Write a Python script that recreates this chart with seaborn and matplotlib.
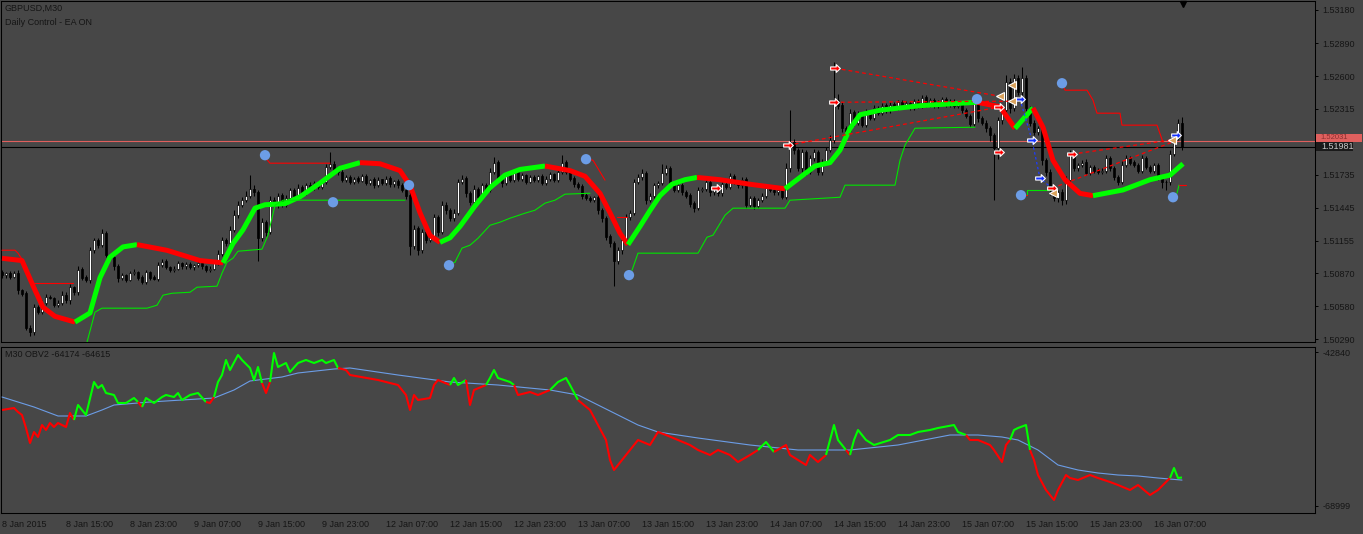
import numpy as np
import matplotlib
matplotlib.use("Agg")
import matplotlib.pyplot as plt
import matplotlib.transforms as mtransforms
from matplotlib.patches import Rectangle
from matplotlib.path import Path
import seaborn as sns

# colours
BG = "#474747"
INK = "#151515"
RED = "#ff0000"
LIME = "#00ff00"
BLUE = "#6c9de6"
TAN = "#d9a25c"
BIDRED = "#e0605e"

sns.set_style("dark", {"axes.facecolor": BG, "figure.facecolor": BG,
                       "axes.edgecolor": "black", "axes.grid": False})
plt.rcParams["font.family"] = ["Liberation Sans", "DejaVu Sans"]
plt.rcParams["font.size"] = 6.5
plt.rcParams["axes.linewidth"] = 0.75

# ---------------- GBPUSD M30 candles (pips above 1.5000) ----------------
first_open_pips = 88
close_pips = [
    85, 87, 84, 87, 72, 69, 39, 35, 57, 53,
    61, 66, 65, 59, 61, 68, 63, 75, 70, 90,
    83, 81, 107, 116, 112, 122, 103, 101, 93, 83,
    85, 81, 87, 88, 83, 79, 88, 83, 82, 94,
    97, 92, 90, 91, 96, 93, 95, 92, 94, 96,
    93, 90, 91, 96, 104, 116, 113, 125, 138, 147,
    151, 155, 161, 158, 118, 132, 123, 151, 147, 155,
    147, 153, 160, 155, 162, 158, 164, 162, 166, 163,
    167, 180, 183, 177, 176, 169, 171, 167, 170, 168,
    172, 166, 169, 164, 169, 166, 170, 165, 168, 164,
    160, 155, 111, 126, 107, 123, 116, 119, 136, 123,
    147, 142, 135, 140, 167, 170, 157, 149, 161, 154,
    164, 160, 176, 184, 170, 166, 173, 169, 176, 170,
    173, 167, 171, 169, 172, 166, 170, 174, 169, 176,
    184, 176, 170, 165, 163, 155, 153, 151, 154, 142,
    135, 119, 113, 98, 107, 116, 136, 140, 167, 171,
    175, 151, 155, 164, 166, 175, 179, 166, 160, 164,
    158, 155, 148, 144, 160, 161, 167, 158, 161, 157,
    165, 163, 172, 167, 164, 169, 147, 153, 146, 151,
    155, 162, 160, 158, 160, 154, 179, 202, 195, 179,
    193, 176, 188, 193, 176, 184, 195, 204, 239, 234,
    214, 212, 228, 219, 226, 217, 228, 223, 232, 228,
    234, 230, 235, 232, 237, 234, 236, 232, 238, 234,
    241, 235, 239, 234, 237, 240, 235, 238, 234, 236,
    230, 225, 218, 236, 223, 219, 214, 208, 197, 221,
    230, 255, 232, 258, 246, 258, 232, 219, 211, 214,
    186, 176, 161, 153, 158, 151, 169, 192, 179, 182,
    184, 175, 180, 177, 176, 177, 188, 179, 171, 167,
    182, 188, 184, 182, 177, 188, 180, 177, 182, 171,
    167, 167, 192, 206, 219, 198,
]
wick_up = [
    2, 1, 2, 2, 3, 1, 2, 2, 3, 2,
    2, 3, 2, 1, 2, 3, 2, 2, 1, 3,
    2, 2, 3, 2, 2, 4, 2, 1, 2, 2,
    2, 1, 2, 3, 1, 2, 2, 1, 2, 3,
    2, 2, 1, 2, 2, 1, 2, 2, 1, 2,
    2, 1, 2, 2, 3, 3, 2, 3, 4, 3,
    3, 4, 12, 3, 2, 3, 2, 4, 3, 2,
    2, 3, 2, 2, 3, 2, 2, 3, 2, 2,
    2, 3, 10, 2, 2, 3, 2, 2, 1, 2,
    2, 2, 1, 2, 2, 1, 2, 2, 1, 2,
    2, 2, 3, 3, 2, 3, 2, 2, 3, 2,
    3, 2, 2, 3, 3, 3, 2, 2, 3, 2,
    2, 2, 3, 5, 2, 2, 2, 2, 1, 2,
    2, 1, 2, 2, 1, 2, 2, 2, 1, 3,
    7, 2, 2, 2, 2, 2, 2, 2, 1, 3,
    2, 2, 2, 2, 3, 3, 3, 2, 3, 3,
    3, 2, 2, 2, 2, 8, 3, 2, 2, 2,
    2, 2, 2, 2, 3, 2, 2, 2, 2, 3,
    2, 2, 3, 2, 2, 2, 2, 2, 2, 2,
    2, 2, 2, 2, 2, 3, 5, 28, 3, 2,
    3, 2, 3, 3, 2, 3, 3, 4, 33, 5,
    3, 2, 3, 2, 3, 2, 3, 2, 3, 2,
    2, 2, 2, 2, 2, 2, 2, 2, 2, 2,
    2, 2, 2, 2, 2, 2, 2, 2, 2, 2,
    2, 2, 2, 3, 2, 2, 2, 2, 2, 3,
    3, 6, 3, 4, 3, 10, 3, 2, 2, 2,
    2, 2, 2, 2, 2, 3, 3, 3, 2, 2,
    2, 3, 2, 2, 2, 2, 3, 2, 2, 2,
    3, 3, 2, 2, 2, 3, 2, 2, 2, 2,
    2, 2, 3, 3, 3, 5,
]
wick_dn = [
    2, 2, 2, 1, 3, 2, 2, 3, 2, 2,
    2, 2, 1, 2, 2, 2, 2, 3, 2, 2,
    2, 2, 3, 2, 3, 2, 2, 2, 3, 4,
    2, 2, 1, 2, 2, 2, 2, 2, 1, 2,
    2, 1, 2, 2, 1, 2, 2, 1, 2, 2,
    2, 2, 2, 1, 2, 2, 2, 2, 2, 3,
    2, 2, 2, 3, 20, 3, 3, 2, 2, 3,
    2, 2, 3, 2, 2, 2, 2, 2, 2, 2,
    2, 2, 2, 2, 3, 2, 2, 2, 2, 2,
    1, 2, 2, 2, 1, 2, 2, 2, 2, 2,
    2, 3, 8, 3, 4, 2, 3, 2, 2, 3,
    2, 3, 2, 2, 2, 2, 3, 2, 2, 2,
    2, 2, 2, 2, 2, 3, 2, 2, 2, 2,
    2, 2, 1, 2, 2, 2, 2, 2, 2, 2,
    2, 2, 2, 2, 2, 3, 2, 2, 2, 3,
    3, 3, 3, 22, 3, 3, 2, 2, 2, 2,
    2, 3, 2, 2, 2, 2, 2, 3, 2, 2,
    2, 2, 3, 3, 2, 2, 2, 3, 2, 2,
    2, 2, 2, 2, 2, 2, 3, 2, 3, 2,
    2, 2, 2, 2, 2, 2, 2, 3, 3, 2,
    3, 3, 2, 3, 3, 3, 2, 2, 3, 3,
    3, 2, 2, 3, 2, 2, 2, 2, 2, 2,
    2, 2, 2, 2, 2, 2, 2, 2, 2, 2,
    2, 2, 2, 2, 2, 2, 2, 2, 2, 2,
    2, 2, 3, 2, 3, 2, 3, 5, 46, 10,
    3, 3, 4, 3, 3, 3, 3, 3, 3, 3,
    4, 4, 5, 3, 4, 4, 3, 3, 2, 2,
    2, 2, 2, 2, 2, 2, 2, 2, 2, 3,
    2, 2, 2, 2, 2, 2, 2, 2, 2, 2,
    5, 7, 3, 2, 2, 3,
]

# slope coloured moving average (bar, price)
trend_ma = [
    (0, 1.5100), (5, 1.5098), (8.25, 1.5072), (10.25, 1.5057), (13.25, 1.5049),
    (18.25, 1.5044), (22, 1.5052), (24.5, 1.5083), (27, 1.5101), (30.25, 1.5110),
    (33.75, 1.5112), (41.25, 1.5107), (49.5, 1.5098), (55.25, 1.5096), (57.75, 1.5113),
    (60.25, 1.5125), (63.25, 1.5144), (65.75, 1.5147), (70.75, 1.5148), (74.5, 1.5154),
    (79.5, 1.5166), (84.5, 1.5179), (89.5, 1.5184), (94.5, 1.5183), (99.5, 1.5177),
    (102, 1.5164), (104.5, 1.5140), (107, 1.5120), (109.5, 1.5114), (112, 1.5118),
    (114.5, 1.5128), (118.25, 1.5146), (122, 1.5162), (125.75, 1.5173), (129.5, 1.5178),
    (135.75, 1.5181), (142, 1.5177), (145.75, 1.5172), (149.5, 1.5157), (152, 1.5140),
    (154.5, 1.5122), (156.5, 1.5112), (159.5, 1.5128), (162, 1.5142), (164.5, 1.5155),
    (167.5, 1.5165), (170.75, 1.5169), (173.75, 1.5171), (179.5, 1.5169), (187, 1.5165),
    (195.75, 1.5161), (199.5, 1.5171), (203.25, 1.5181), (207, 1.5184), (209.5, 1.5195),
    (212, 1.5214), (214.5, 1.5226), (219.5, 1.5230), (229.5, 1.5234), (243.75, 1.5237),
    (249.5, 1.5233), (253.25, 1.5214), (257.75, 1.5232), (260.25, 1.5215), (262.75, 1.5186),
    (265.75, 1.5169), (269.5, 1.5157), (272.75, 1.5155), (280.25, 1.5160), (287, 1.5169),
    (292, 1.5173), (295.25, 1.5183),
]

green_trail = [
    [(21.25, 1.50263), (23.25, 1.50527), (25, 1.50562), (36.25, 1.50562), (38.75, 1.50588),
     (40.25, 1.50676), (42.5, 1.50693), (47, 1.50702), (48.75, 1.50746), (53.75, 1.50755),
     (55, 1.50869), (56.25, 1.50966), (57.75, 1.51001), (59, 1.51062), (65, 1.5108),
     (66.5, 1.51203), (68.25, 1.51466), (70.25, 1.5151), (100.75, 1.5151)],
    [(111.75, 1.50939), (113.25, 1.50966), (115, 1.51089), (117, 1.51115), (119, 1.51176),
     (122, 1.5129), (124.5, 1.51317), (127, 1.51352), (130.75, 1.51396), (133.25, 1.51422),
     (135.75, 1.51484), (138.25, 1.5151), (140.75, 1.51563), (147, 1.51571)],
    [(157.5, 1.50895), (159, 1.51045), (174, 1.51045), (176.25, 1.51185), (177.75, 1.51203),
     (180.75, 1.51378), (182.75, 1.5144), (195.75, 1.5144), (197, 1.5151), (209.5, 1.51536),
     (210.75, 1.51642), (223.25, 1.51642), (224.5, 1.51861), (225.75, 1.51993),
     (228.25, 1.52142), (243.25, 1.52151)],
    [(256.25, 1.51554), (256.25, 1.51598), (262, 1.51598)],
    [(293.75, 1.51571), (294.25, 1.51642)],
]
red_thin = [
    [(0, 1.51071), (3.25, 1.51071), (4, 1.51045), (5.5, 1.50966)],
    [(7.75, 1.50781), (17.75, 1.50781)],
    [(65.75, 1.51888), (67, 1.51835), (82, 1.51835)],
    [(146, 1.5187), (147.75, 1.51861), (150.75, 1.51686)],
    [(153.75, 1.5136), (156.25, 1.5136)],
    [(254.75, 1.51554), (256.25, 1.51554)],
    [(265, 1.52537), (265.75, 1.52476), (271.25, 1.52476), (272.75, 1.52388), (273.75, 1.52274),
     (279.5, 1.52274), (280, 1.52169), (288.75, 1.52169), (290.25, 1.52019)],
    [(294.25, 1.51642), (296, 1.51642)],
]
red_dashed = [
    [(208.25, 1.52669), (249.5, 1.52423)],
    [(196.5, 1.51993), (249.25, 1.52327)],
    [(208, 1.5237), (252.5, 1.52379)],
    [(267.5, 1.51914), (292, 1.52037)],
    [(262.5, 1.51615), (292.5, 1.52019)],
]
blue_dashed = [(254.5, 1.52397), (257.5, 1.52037), (259.5, 1.51703), (262.5, 1.51615)]

blue_dots = [(65.75, 1.51905), (82.75, 1.51492), (101.75, 1.51642), (111.75, 1.50939),
             (146, 1.5187), (156.75, 1.50852), (243.75, 1.52397), (265, 1.52537),
             (254.75, 1.51554), (292.75, 1.51536)]
red_arrows = [(208.25, 1.52669), (208, 1.5237), (196.5, 1.51993), (178.5, 1.51615),
              (249.25, 1.52327), (249.25, 1.51931), (262.5, 1.51615), (267.5, 1.51914)]
blue_arrows = [(254.5, 1.52397), (257.5, 1.52037), (259.5, 1.51703), (293.5, 1.52081)]
tan_marks = [(249.5, 1.52423), (252.5, 1.5252), (252.5, 1.52379), (262.75, 1.51571),
             (292.5, 1.52037)]

ask_line = 1.52031
bid_line = 1.51981
price_ticks = [1.53180, 1.52890, 1.52600, 1.52315, 1.51735, 1.51445, 1.51155,
               1.50870, 1.50580, 1.50290]

# ---------------- OBV2 sub window (bar, value) ----------------
obv = [
    (0, -52700), (3, -52360), (4, -53040), (5, -53550), (6, -55760), (7, -58310), (8, -56440),
    (9, -57290), (10, -55250), (11, -56100), (12, -54910), (13, -55590), (14, -54910),
    (15, -55250), (16, -55590), (17, -53210), (18, -54400), (19, -51850), (20, -52700),
    (21, -53550), (23, -47940), (24, -48960), (25, -48450), (26, -49810), (28, -50150),
    (29, -51510), (31, -51510), (33, -50660), (34, -51340), (35, -52190), (36, -50660),
    (38, -51510), (40, -50490), (41, -50150), (43, -50490), (44, -49810), (45, -51000),
    (47, -50150), (49, -49810), (51, -51340), (52, -51510), (53, -50490), (54, -47940),
    (55, -46750), (56, -44200), (57, -45900), (59, -43350), (60, -44200), (62, -45560),
    (63, -47600), (64, -45390), (65, -48110), (66, -49810), (67, -47940), (68, -43010),
    (69, -45390), (71, -44710), (72, -46240), (74, -44710), (76, -44200), (78, -44710),
    (80, -44200), (81, -44710), (83, -44200), (84, -45560), (86, -45900), (87, -46750),
    (94, -47600), (99, -48450), (101, -50150), (102, -52700), (103, -50150), (104, -51000),
    (107, -50660), (108, -48450), (109, -47600), (112, -48450), (113, -47260), (114, -48450),
    (116, -47600), (117, -51850), (118, -49300), (121, -48450), (122, -47260), (123, -45900),
    (124, -47260), (127, -47940), (128, -48450), (129, -50150), (132, -49640), (134, -50150),
    (137, -49300), (139, -47940), (141, -47260), (142, -48450), (144, -51000), (147, -52700),
    (149, -55250), (151, -57800), (152, -61200), (153, -62900), (154, -62050), (156, -60350),
    (157, -59500), (159, -57800), (162, -58650), (164, -56440), (166, -56950), (169, -57800),
    (172, -58650), (174, -59500), (177, -60350), (179, -59500), (182, -60350), (184, -61540),
    (187, -60350), (189, -59500), (191, -58140), (193, -59840), (196, -58650), (197, -60350),
    (199, -61200), (201, -62050), (202, -60350), (204, -61540), (206, -60350), (207, -57800),
    (208, -55250), (209, -57800), (211, -59500), (212, -60350), (213, -57800), (214, -56100),
    (216, -57800), (218, -58650), (222, -57800), (224, -56950), (227, -56950), (229, -56440),
    (232, -56100), (234, -55760), (238, -55250), (239, -56440), (241, -56950), (242, -57800),
    (244, -57800), (247, -58650), (248, -59500), (250, -61540), (251, -58650), (252, -57800),
    (253, -56100), (254, -55760), (256, -55250), (257, -59500), (258, -61200), (259, -63750),
    (261, -66300), (262, -67150), (263, -68000), (264, -66300), (266, -63750), (267, -64260),
    (269, -64600), (272, -63750), (274, -64260), (277, -64940), (279, -65450), (282, -66300),
    (284, -65450), (287, -67150), (289, -66300), (291, -64940), (292, -64260), (293, -62560),
    (294, -64260), (295, -64174),
]
obv_ma = [
    (0, -50490), (8, -52190), (14, -53720), (21, -53720), (25, -52700), (28, -51850),
    (37, -51340), (45, -51000), (53, -50660), (58, -49300), (62, -47770), (66, -47430),
    (70, -47090), (74, -46410), (83, -45730), (87, -45560), (99, -46750), (112, -47940),
    (124, -48450), (137, -49300), (144, -50150), (149, -51850), (154, -53550), (159, -55250),
    (164, -56440), (174, -57460), (187, -58650), (199, -59500), (212, -59500), (224, -58650),
    (237, -56950), (244, -56950), (250, -57290), (254, -57800), (259, -59500), (264, -62050),
    (269, -62900), (274, -63410), (279, -63750), (284, -63920), (289, -64260), (295, -64615),
]
obv_ticks = [-42840, -68999]

time_labels = ["8 Jan 2015", "8 Jan 15:00", "8 Jan 23:00", "9 Jan 07:00", "9 Jan 15:00",
               "9 Jan 23:00", "12 Jan 07:00", "12 Jan 15:00", "12 Jan 23:00", "13 Jan 07:00",
               "13 Jan 15:00", "13 Jan 23:00", "14 Jan 07:00", "14 Jan 15:00", "14 Jan 23:00",
               "15 Jan 07:00", "15 Jan 15:00", "15 Jan 23:00", "16 Jan 07:00"]
label_every = 16


def draw_runs(ax, xs, ys, colors, lw, z):
    xs, ys = np.asarray(xs, float), np.asarray(ys, float)
    start = 0
    for k in range(1, len(colors) + 1):
        if k == len(colors) or colors[k] != colors[start]:
            ax.plot(xs[start:k + 1], ys[start:k + 1], color=colors[start], lw=lw,
                    zorder=z, solid_capstyle="butt", solid_joinstyle="round")
            start = k


fig = plt.figure(figsize=(13.63, 5.34), dpi=100)
ax = fig.add_axes([1 / 1363, 1 - 342 / 534, 1314 / 1363, 341 / 534])
ax2 = fig.add_axes([1 / 1363, 21 / 534, 1314 / 1363, 166 / 534])
for a in (ax, ax2):
    a.set_facecolor(BG)
    a.grid(False)
    for s in a.spines.values():
        s.set_color("black")
        s.set_linewidth(0.75)
    a.set_xlim(-0.25, 328.25)

# ----- candles -----
close = 1.5 + np.array(close_pips) / 1e4
opn = np.r_[1.5 + first_open_pips / 1e4, close[:-1]]
hi = np.maximum(opn, close) + np.array(wick_up) / 1e4
lo = np.minimum(opn, close) - np.array(wick_dn) / 1e4
bars = np.arange(len(close))
ax.vlines(bars, lo, hi, color="black", lw=0.75, zorder=2)
bull = close > opn
ax.bar(bars[bull], (close - opn)[bull], bottom=opn[bull], width=0.6, color="white",
       edgecolor="black", lw=0.5, zorder=3)
ax.bar(bars[~bull], (opn - close)[~bull] + 0.00002, bottom=close[~bull], width=0.6,
       color="black", edgecolor="black", lw=0.5, zorder=3)

ax.axhline(ask_line, color=BIDRED, lw=0.8, zorder=1.5)
ax.axhline(bid_line, color="black", lw=0.8, zorder=1.5)

# ----- trend line -----
mx = [b for b, _ in trend_ma]
my = [p for _, p in trend_ma]
ma_cols = [LIME if my[k + 1] > my[k] else RED for k in range(len(my) - 1)]
draw_runs(ax, mx, my, ma_cols, 3.6, 4)

# ----- thin indicator lines -----
for piece in green_trail:
    sns.lineplot(x=[b for b, _ in piece], y=[p for _, p in piece], ax=ax, color="#00e600",
                 lw=0.8, sort=False, estimator=None, zorder=5)
for piece in red_thin:
    ax.plot([b for b, _ in piece], [p for _, p in piece], color=RED, lw=0.8, zorder=5)
for piece in red_dashed:
    ax.plot([b for b, _ in piece], [p for _, p in piece], color=RED, lw=0.9,
            ls=(0, (3, 2.5)), zorder=5)
ax.plot([b for b, _ in blue_dashed], [p for _, p in blue_dashed], color="#1e3cff", lw=0.9,
        ls=(0, (2, 2)), zorder=5)

sns.scatterplot(x=[b for b, _ in blue_dots], y=[p for _, p in blue_dots], ax=ax, s=55,
                color=BLUE, edgecolor="none", zorder=7)

arrow = Path([(-1, -0.32), (0.15, -0.32), (0.15, -0.8), (1, 0), (0.15, 0.8), (0.15, 0.32),
              (-1, 0.32), (-1, -0.32)], [Path.MOVETO] + [Path.LINETO] * 6 + [Path.CLOSEPOLY])
ax.plot([b for b, _ in red_arrows], [p for _, p in red_arrows], ls="none", marker=arrow,
        ms=7, mfc=RED, mec="white", mew=0.8, zorder=8)
ax.plot([b for b, _ in blue_arrows], [p for _, p in blue_arrows], ls="none", marker=arrow,
        ms=7, mfc="#1430ff", mec="white", mew=0.8, zorder=8)
ax.plot([b for b, _ in tan_marks], [p for _, p in tan_marks], ls="none", marker="<",
        ms=6, mfc=TAN, mec="white", mew=0.8, zorder=8)

ax.set_ylim(1.50265, 1.53259)
ax.set_xticks([])
ax.yaxis.tick_right()
ax.set_yticks(price_ticks)
ax.set_yticklabels([f"{v:.5f}" for v in price_ticks])
ax.tick_params(axis="y", direction="out", length=2.5, width=0.7, color="black", pad=3,
               labelsize=6.5, labelcolor=INK)

ax.text(0.003, 0.979, "GBPUSD,M30", transform=ax.transAxes, ha="left", va="center",
        fontsize=6.5, color=INK)
ax.text(0.003, 0.938, "Daily Control - EA ON", transform=ax.transAxes, ha="left",
        va="center", fontsize=6.5, color=INK)

# price boxes on the right scale (ask box sits just above the bid box)
tr = mtransforms.blended_transform_factory(ax.transAxes, ax.transData)
ax.add_patch(Rectangle((1.0008, bid_line + 0.00040), 46 / 1314, 0.00072, transform=tr,
                       facecolor=BIDRED, edgecolor="none", clip_on=False, zorder=9))
ax.text(1.0045, bid_line + 0.00076, f"{ask_line:.5f}", transform=tr, ha="left",
        va="center", fontsize=5.5, color="#8a3030", clip_on=False, zorder=10)
ax.add_patch(Rectangle((1.0008, bid_line - 0.00040), 37 / 1314, 0.0008, transform=tr,
                       facecolor="#1a1a1a", edgecolor="none", clip_on=False, zorder=11))
ax.text(1.0045, bid_line - 0.00001, f"{bid_line:.5f}", transform=tr, ha="left",
        va="center", fontsize=6.5, color="#c8c8c8", clip_on=False, zorder=12)

# chart shift marker
ax.plot([295.25], [0.991], marker="v", ms=5, color="black",
        transform=mtransforms.blended_transform_factory(ax.transData, ax.transAxes),
        clip_on=False, zorder=9)

# ----- OBV window -----
ob_x = np.array([b for b, _ in obv], float)
ob_y = np.array([v for _, v in obv], float)
mb_x = [b for b, _ in obv_ma]
mb_y = [v for _, v in obv_ma]
sns.lineplot(x=mb_x, y=mb_y, ax=ax2, color=BLUE, lw=0.8, sort=False, estimator=None,
             zorder=3)
mid = (ob_x[:-1] + ob_x[1:]) / 2
mid_val = (ob_y[:-1] + ob_y[1:]) / 2
ref = np.interp(mid, mb_x, mb_y)
ob_cols = [LIME if mv >= r else RED for mv, r in zip(mid_val, ref)]
draw_runs(ax2, ob_x, ob_y, ob_cols, 1.5, 4)

ax2.set_ylim(-70210, -41990)
ax2.yaxis.tick_right()
ax2.set_yticks(obv_ticks)
ax2.set_yticklabels([str(v) for v in obv_ticks])
ax2.tick_params(axis="y", direction="out", length=2.5, width=0.7, color="black", pad=3,
                labelsize=6.5, labelcolor=INK)
ax2.set_xticks(np.arange(len(time_labels)) * label_every)
ax2.set_xticklabels(time_labels, ha="left")
ax2.tick_params(axis="x", direction="out", length=3, width=0.7, color="black", pad=2,
                labelsize=6.5, labelcolor=INK)
ax2.set_xlabel("")
ax2.set_ylabel("")
ax.set_xlabel("")
ax.set_ylabel("")
ax2.text(0.003, 0.952, "M30 OBV2 -64174 -64615", transform=ax2.transAxes, ha="left",
         va="center", fontsize=6.5, color=INK)

fig.savefig("out.png", dpi=100, facecolor=BG)
